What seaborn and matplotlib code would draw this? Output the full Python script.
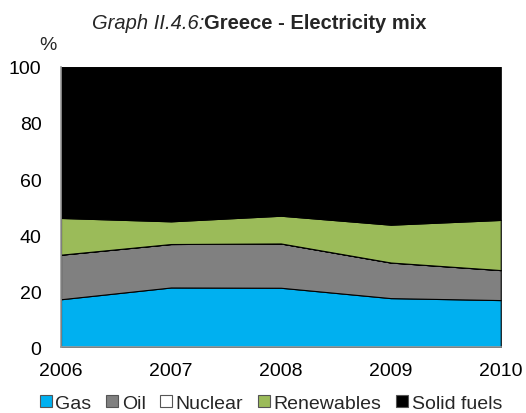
import matplotlib
matplotlib.use("Agg")
import matplotlib.pyplot as plt
from matplotlib.patches import Patch
import seaborn as sns

# Data (percent shares)
years = [2006, 2007, 2008, 2009, 2010]
gas = [17.1, 21.3, 21.2, 17.5, 16.8]
oil = [15.9, 15.5, 15.8, 12.7, 10.7]
nuclear = [0, 0, 0, 0, 0]
renewables = [13.1, 8.1, 9.9, 13.5, 17.9]
solid_fuels = [53.9, 55.1, 53.1, 56.3, 54.6]

labels = ["Gas", "Oil", "Nuclear", "Renewables", "Solid fuels"]
colors = ["#00B0F0", "#808080", "#FFFFFF", "#9BBB59", "#000000"]

sns.set_style("white")
plt.rcParams['font.family'] = ['Liberation Sans', 'DejaVu Sans']

fig = plt.figure(figsize=(5.26, 4.14), dpi=100)
ax = fig.add_axes([0.116, 0.159, 0.836, 0.677])

ax.stackplot(years, gas, oil, nuclear, renewables, solid_fuels,
             colors=colors, edgecolor="black", linewidth=0.8)

ax.set_xlim(2006, 2010)
ax.set_ylim(0, 100)
ax.set_xticks(years)
ax.set_yticks(range(0, 101, 20))
ax.tick_params(axis="both", labelsize=14, colors="black")
ax.tick_params(axis="y", direction="in", length=4, color="#999999", pad=14)
ax.tick_params(axis="x", length=0, pad=11)

for side in ["top", "right"]:
    ax.spines[side].set_visible(False)
for side in ["left", "bottom"]:
    ax.spines[side].set_color("#999999")
    ax.spines[side].set_linewidth(1.2)

ax.text(-0.03, 1.079, "%", transform=ax.transAxes, fontsize=14, ha="center", va="center")

# Title: italic prefix + bold part
fig.text(0.388, 0.944, "Graph II.4.6:", fontsize=14.5, style="italic", ha="right", va="center")
fig.text(0.388, 0.944, "Greece - Electricity mix", fontsize=14.5, weight="bold", ha="left", va="center")

handles = [Patch(facecolor=c, edgecolor="#555555", linewidth=0.8) for c in colors]
fig.legend(handles, labels, loc="center", bbox_to_anchor=(0.515, 0.024), ncol=5,
           frameon=False, fontsize=14, handlelength=0.6, handleheight=0.6,
           handletextpad=0.2, columnspacing=0.75, borderpad=0)

fig.savefig("out.png", dpi=100)
